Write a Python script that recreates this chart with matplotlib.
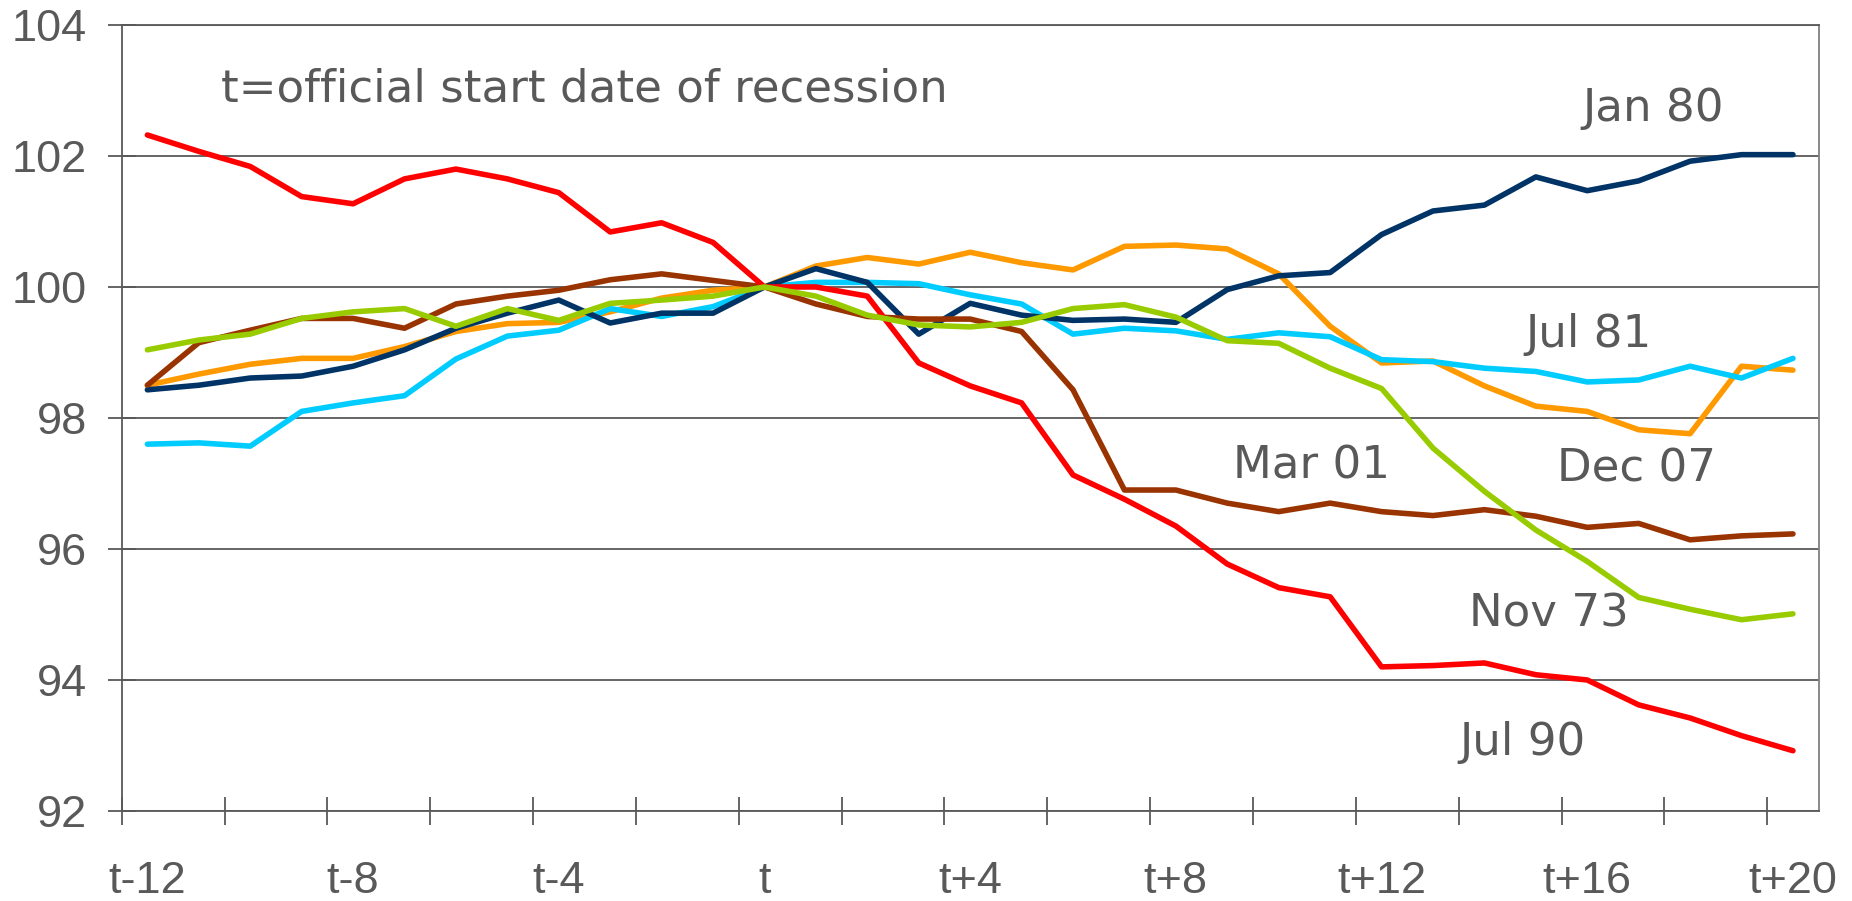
import numpy as np
import matplotlib
matplotlib.use("Agg")
import matplotlib.pyplot as plt
from matplotlib.ticker import FixedLocator

# months relative to the official start of each recession
months = list(range(-12, 21))
tick_pos = list(range(-12, 21, 4))
tick_labels = ["t-12", "t-8", "t-4", "t", "t+4", "t+8", "t+12", "t+16", "t+20"]

nov73 = [99.04, 99.19, 99.28, 99.52, 99.62, 99.67, 99.40, 99.67, 99.49, 99.75,
         99.80, 99.86, 100.00, 99.86, 99.57, 99.42, 99.39, 99.46, 99.67, 99.73,
         99.54, 99.18, 99.14, 98.76, 98.45, 97.54, 96.88, 96.29, 95.81, 95.26,
         95.08, 94.92, 95.01]
jan80 = [98.43, 98.50, 98.61, 98.64, 98.79, 99.04, 99.37, 99.60, 99.80, 99.45,
         99.60, 99.60, 100.00, 100.28, 100.07, 99.28, 99.75, 99.57, 99.49, 99.51,
         99.46, 99.96, 100.17, 100.22, 100.80, 101.16, 101.25, 101.68, 101.47, 101.62,
         101.92, 102.02, 102.02]
jul81 = [97.60, 97.62, 97.57, 98.10, 98.23, 98.34, 98.90, 99.25, 99.34, 99.67,
         99.55, 99.70, 100.00, 100.07, 100.07, 100.05, 99.88, 99.74, 99.28, 99.37,
         99.33, 99.20, 99.30, 99.24, 98.89, 98.86, 98.76, 98.71, 98.55, 98.58,
         98.79, 98.61, 98.91]
jul90 = [102.32, 102.07, 101.84, 101.38, 101.27, 101.65, 101.80, 101.65, 101.44, 100.84,
         100.98, 100.68, 100.00, 100.00, 99.86, 98.84, 98.49, 98.23, 97.13, 96.76,
         96.35, 95.77, 95.41, 95.27, 94.20, 94.22, 94.26, 94.08, 94.00, 93.62,
         93.42, 93.15, 92.92]
mar01 = [98.50, 99.15, 99.34, 99.52, 99.52, 99.37, 99.74, 99.86, 99.95, 100.11,
         100.20, 100.10, 100.00, 99.74, 99.55, 99.51, 99.51, 99.32, 98.43, 96.90,
         96.90, 96.70, 96.57, 96.70, 96.57, 96.51, 96.60, 96.50, 96.33, 96.39,
         96.14, 96.20, 96.23]
dec07 = [98.50, 98.67, 98.82, 98.91, 98.91, 99.09, 99.32, 99.44, 99.46, 99.62,
         99.83, 99.95, 100.00, 100.32, 100.45, 100.35, 100.53, 100.37, 100.26, 100.62,
         100.64, 100.58, 100.20, 99.40, 98.84, 98.87, 98.49, 98.18, 98.10, 97.82,
         97.76, 98.79, 98.73]

grey = "#595959"

fig = plt.figure(figsize=(18.52, 9.01), dpi=100)
ax = fig.add_axes([0.0657, 0.0999, 0.9163, 0.8724])

lw = 4.0
ax.plot(months, dec07, color="#FF9900", lw=lw, solid_capstyle="round", zorder=3)
ax.plot(months, jul81, color="#00CCFF", lw=lw, solid_capstyle="round", zorder=3)
ax.plot(months, jan80, color="#003366", lw=lw, solid_capstyle="round", zorder=4)
ax.plot(months, mar01, color="#993300", lw=lw, solid_capstyle="round", zorder=4)
ax.plot(months, jul90, color="#FF0000", lw=lw, solid_capstyle="round", zorder=5)
ax.plot(months, nov73, color="#99CC00", lw=lw, solid_capstyle="round", zorder=5)

ax.set_xlim(-12.5, 20.5)
ax.set_ylim(92, 104)

# category-style axis: labels on every 4th month, tick marks between every 2nd
ax.xaxis.set_major_locator(FixedLocator(tick_pos))
ax.set_xticklabels(tick_labels)
ax.xaxis.set_minor_locator(FixedLocator(np.arange(-12.5, 20, 2)))
ax.tick_params(axis="x", which="major", length=0, pad=36, labelsize=32.5,
               labelcolor=grey)
ax.tick_params(axis="x", which="minor", direction="inout", length=20,
               width=1.3, color=grey)

ax.set_yticks(range(92, 105, 2))
ax.tick_params(axis="y", direction="inout", length=20, width=1.3, color=grey,
               pad=15, labelsize=32.5, labelcolor=grey)
for lbl in ax.get_xticklabels() + ax.get_yticklabels():
    lbl.set_family("Liberation Sans")

ax.grid(axis="y", color=grey, lw=1.3)
ax.set_axisbelow(True)
for side in ["left", "bottom", "top"]:
    ax.spines[side].set_color(grey)
    ax.spines[side].set_linewidth(1.3)
ax.spines["right"].set_color("#808080")
ax.spines["right"].set_linewidth(1.3)

txt = dict(fontsize=32.5, color=grey, family="DejaVu Sans", va="center")
ax.text(-10.57, 103.02, "t=official start date of recession", ha="left", **txt)
ax.text(17.28, 102.73, "Jan 80", ha="center", **txt)
ax.text(16.02, 99.27, "Jul 81", ha="center", **txt)
ax.text(10.63, 97.27, "Mar 01", ha="center", **txt)
ax.text(16.95, 97.22, "Dec 07", ha="center", **txt)
ax.text(15.26, 95.01, "Nov 73", ha="center", **txt)
ax.text(14.75, 93.05, "Jul 90", ha="center", **txt)

fig.savefig("out.png", dpi=100, facecolor="white")
